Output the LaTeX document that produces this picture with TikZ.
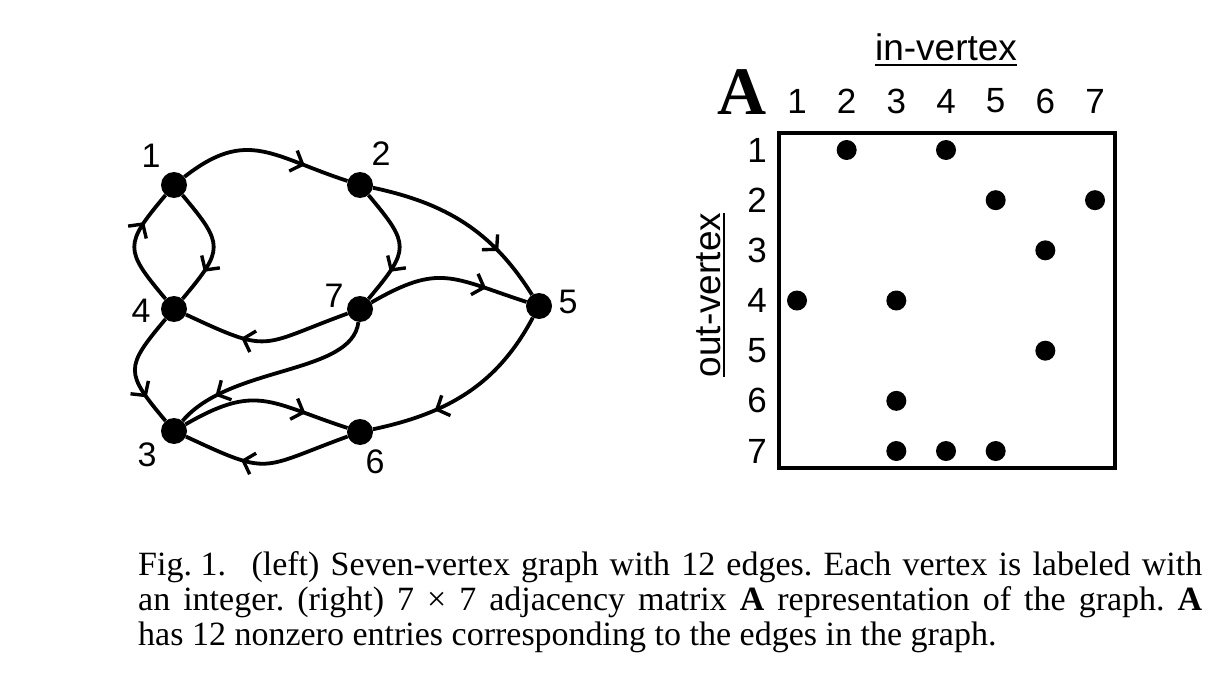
\documentclass[tikz,border=0pt]{standalone}
\usepackage{fontspec}
\setmainfont{Liberation Serif}
\newfontfamily\hel{Liberation Sans}
\usetikzlibrary{arrows.meta,decorations.markings}
\tikzset{
  vtx/.style={circle,fill=black,minimum size=26pt,inner sep=0pt},
  vlab/.style={font=\fontsize{34}{40}\selectfont\hel,inner sep=0pt},
  mlab/.style={font=\fontsize{35}{40}\selectfont\hel,inner sep=0pt},
  axlab/.style={font=\fontsize{37}{42}\selectfont\hel,inner sep=0pt},
  dotm/.style={circle,fill=black,minimum size=20pt,inner sep=0pt},
  captext/.style={font=\fontsize{34}{35}\selectfont,inner sep=0pt,anchor=base west},
  garc/.style={line width=3.8pt,postaction={decorate},
    decoration={markings,mark=at position #1 with {\arrow{Straight Barb[length=10pt,width=22pt,line width=3.4pt]}}}},
  garc/.default=0.72
}
\begin{document}
\frenchspacing
\begin{tikzpicture}[x=1pt,y=1pt]
\useasboundingbox (0,0) rectangle (1224,-698);
% vertices
\node[vtx] (n1) at (174,-185) {};
\node[vtx] (n2) at (360,-185) {};
\node[vtx] (n4) at (174,-309) {};
\node[vtx] (n7) at (360,-309) {};
\node[vtx] (n5) at (539,-306) {};
\node[vtx] (n3) at (174,-431) {};
\node[vtx] (n6) at (360,-432) {};
% vertex labels
\node[vlab] (l1) at (151,-156) {1};
\node[vlab] (l2) at (381,-154) {2};
\node[vlab] (l4) at (141,-311) {4};
\node[vlab] (l7) at (334,-296) {7};
\node[vlab] (l5) at (568,-302) {5};
\node[vlab] (l3) at (147,-455) {3};
\node[vlab] (l6) at (375,-462) {6};
% edges
\draw[garc=0.74] (n1) to[out=38,in=162,looseness=1.25] (n2);
\draw[garc] (n4) to[out=130,in=230,looseness=1.6] (n1);
\draw[garc] (n1) to[out=-50,in=50,looseness=1.6] (n4);
\draw[garc] (n2) to[out=-50,in=50,looseness=1.6] (n7);
\draw[garc] (n2) to[out=-12,in=122,looseness=1] (n5);
\draw[garc=0.74] (n7) to[out=30,in=162,looseness=1.3] (n5);
\draw[garc=0.65] (n7) to[out=200,in=-25,looseness=1.5] (n4);
\draw[garc=0.8] (n7) .. controls (352,-375) and (230,-365) .. (n3);
\draw[garc=0.75] (n4) to[out=-130,in=130,looseness=1.6] (n3);
\draw[garc=0.74] (n3) to[out=30,in=162,looseness=1.3] (n6);
\draw[garc=0.65] (n6) to[out=200,in=-25,looseness=1.5] (n3);
\draw[garc=0.68] (n5) to[out=-118,in=12,looseness=1] (n6);
% matrix
\node[font=\fontsize{68}{70}\selectfont\bfseries,inner sep=0pt] (Am) at (742,-92) {A};
\foreach \i in {1,...,7}{
  \node[mlab] (c\i) at ({797+(\i-1)*49.67},-101) {\i};
  \node[mlab] (r\i) at (757,{-(150+(\i-1)*50.17)}) {\i};
}
\draw[line width=3.8pt] (779,-133) rectangle (1115,-468);
\foreach \r/\c in {1/2,1/4,2/5,2/7,3/6,4/1,4/3,5/6,6/3,7/3,7/4,7/5}{
  \node[dotm] (d\r\c) at ({797+(\c-1)*49.67},{-(150+(\r-1)*50.17)}) {};
}
\node[axlab,anchor=base] (inv) at (946,-61) {in-vertex};
\draw[line width=2.8pt] ([yshift=-4pt]inv.base west) -- ([yshift=-4pt]inv.base east);
\node[axlab,anchor=base,rotate=90] (outv) at (720,-295) {out-vertex};
\draw[line width=2.8pt] ([xshift=4pt]outv.base west) -- ([xshift=4pt]outv.base east);
% caption
\node[captext] (cap1) at (138,-575) {\makebox[1064pt][s]{Fig.\hspace{0.25em}1.\hspace{0.75em}(left) Seven-vertex graph with 12 edges. Each vertex is labeled with}};
\node[captext] (cap2) at (138,-610) {\makebox[1064pt][s]{an integer. (right) 7 × 7 adjacency matrix \textbf{A} representation of the graph. \textbf{A}}};
\node[captext] (cap3) at (138,-645) {has 12 nonzero entries corresponding to the edges in the graph.};
\end{tikzpicture}
\end{document}
